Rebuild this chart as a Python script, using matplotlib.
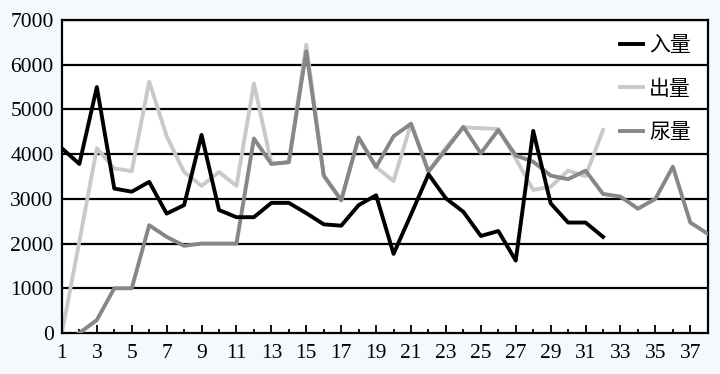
import matplotlib
matplotlib.use("Agg")
import matplotlib.pyplot as plt
from matplotlib.ticker import MultipleLocator

# Data
intake_x = list(range(1, 33))
intake = [4130, 3780, 5500, 3230, 3160, 3380, 2670, 2860, 4430, 2750, 2590, 2590,
          2910, 2910, 2680, 2430, 2400, 2860, 3080, 1770, 2650, 3550, 3010, 2710,
          2170, 2280, 1620, 4520, 2900, 2470, 2470, 2150]
output_x = list(range(1, 33))
output = [0, 2050, 4130, 3680, 3620, 5620, 4400, 3600, 3290, 3600, 3290, 5580,
          3790, 3820, 6450, 3520, 2970, 4370, 3710, 3400, 4680, 3610, 4150, 4600,
          4580, 4560, 3900, 3200, 3270, 3630, 3510, 4540]
urine_x = list(range(2, 39))
urine = [0, 290, 1000, 1000, 2410, 2150, 1950, 2000, 2000, 2000, 4350, 3780, 3820,
         6300, 3520, 2970, 4370, 3710, 4400, 4680, 3610, 4100, 4610, 4020, 4540,
         3970, 3830, 3520, 3440, 3630, 3110, 3050, 2780, 3000, 3720, 2470, 2220]
labels = ["入量", "出量", "尿量"]
xticks = list(range(1, 39, 2))
yticks = list(range(0, 7001, 1000))

fam = ['Liberation Serif', 'Noto Sans CJK SC']
plt.rcParams['font.family'] = fam

fig = plt.figure(figsize=(7.2, 3.74), dpi=100, facecolor='#f5f8fc')
ax = fig.add_axes([0.086, 0.1096, 0.897, 0.837])
ax.set_facecolor('white')

for y in yticks[1:]:
    ax.axhline(y, color='black', lw=1.6, zorder=1)

ax.plot(intake_x, intake, color='black', lw=2.8, label=labels[0], zorder=4)
ax.plot(output_x, output, color='#c9c9c9', lw=2.8, label=labels[1], zorder=2)
ax.plot(urine_x, urine, color='#878787', lw=2.8, label=labels[2], zorder=3)

ax.set_xlim(1, 38)
ax.set_ylim(0, 7000)
ax.set_xticks(xticks)
ax.xaxis.set_minor_locator(MultipleLocator(1))
ax.set_yticks(yticks)
ax.tick_params(axis='x', which='major', direction='in', length=6, width=1.3, labelsize=15.5, pad=8)
ax.tick_params(axis='x', which='minor', direction='in', length=3, width=1.3)
ax.tick_params(axis='y', length=0, labelsize=15.5, pad=6)
for s in ax.spines.values():
    s.set_linewidth(1.6)
    s.set_color('black')

leg = ax.legend(loc='upper right', bbox_to_anchor=(1.0, 1.0), frameon=False,
                fontsize=15, handlelength=1.1, handletextpad=0.3,
                labelspacing=1.15, borderaxespad=0.4)

fig.savefig('out.png', dpi=100, facecolor=fig.get_facecolor())
